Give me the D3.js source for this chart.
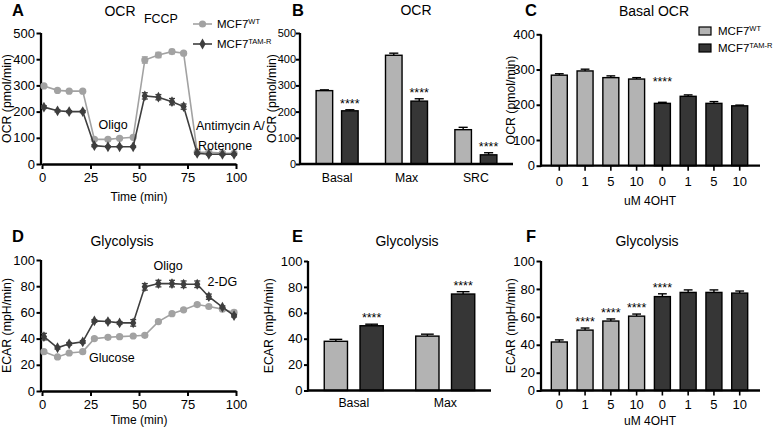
<!DOCTYPE html>
<html><head><meta charset="utf-8">
<script src="https://cdn.jsdelivr.net/npm/d3@7"></script>
<style>
body{margin:0;background:#fff}
svg{display:block;font-family:"Liberation Sans",Arial,sans-serif}
</style></head><body>
<svg id="c" width="777" height="428"></svg>
<script>
// ---------- DATA ----------
const times = [1, 8, 14, 21, 27, 34, 40, 47, 53, 60, 67, 73, 80, 86, 93, 99];
const ocrWT = [298, 281, 278, 278, 94, 94, 98, 102, 397, 416, 429, 423, 45, 45, 42, 41];
const ocrWTErr = [5, 4, 4, 4, 4, 4, 4, 4, 12, 10, 8, 6, 4, 4, 4, 4];
const ocrTAM = [217, 203, 200, 200, 70, 66, 66, 66, 260, 255, 238, 219, 41, 37, 37, 37];
const ocrTAMErr = [5, 4, 4, 4, 4, 3, 3, 3, 12, 10, 12, 10, 4, 3, 3, 3];

const ecarWT = [30, 26, 29, 30, 40, 41, 41.5, 42, 42.5, 53, 59, 62, 66, 64.5, 62.5, 60];
const ecarWTErr = [1, 1, 1, 1, 1, 1, 1, 1, 1, 1, 1, 1, 1, 1, 1, 1.5];
const ecarTAM = [41.5, 33, 36, 37.5, 53.5, 53, 52, 52, 79.5, 82, 82, 81.5, 81.5, 72, 64, 57.5];
const ecarTAMErr = [2.5, 1, 1, 1, 1, 1, 1, 2.5, 2.5, 2.5, 2.5, 2.5, 2.5, 2, 1, 1];

const series = ["WT", "TAM"];
const ocrCats = ["Basal", "Max", "SRC"];
const ocrCatWT = [280, 415, 131];
const ocrCatWTErr = [3, 8, 9];
const ocrCatTAM = [203, 240, 35];
const ocrCatTAMErr = [4, 9, 8];

const doses = ["0", "1", "5", "10"];
const basalWT = [284, 296, 277, 273];
const basalWTErr = [4, 5, 5, 4];
const basalTAM = [204, 224, 204, 197];
const basalTAMErr = [3, 4, 5, 2];

const ecarCats = ["Basal", "Max"];
const ecarCatWT = [38, 42];
const ecarCatWTErr = [1.5, 1.5];
const ecarCatTAM = [50, 74.5];
const ecarCatTAMErr = [1.2, 1.8];

const glycWT = [42, 50.5, 57, 60.5];
const glycWTErr = [1.5, 1.5, 1.5, 1.5];
const glycTAM = [74.5, 77.5, 77.5, 77];
const glycTAMErr = [2, 1.8, 1.8, 1.5];

const ocrTicks = [0, 100, 200, 300, 400, 500];
const basalTicks = [0, 100, 200, 300, 400];
const ecarTicks = [0, 20, 40, 60, 80, 100];
const timeTicks = [0, 25, 50, 75, 100];

// ---------- STYLE ----------
const FONT = '"Liberation Sans", Arial, sans-serif';
const cWTline = "#a2a2a2", cTAMline = "#3e3e3e";
const cWTbar = "#b3b3b3", cTAMbar = "#363636";

const svg = d3.select("#c");

function styleAxis(g, fs) {
  g.attr("font-family", FONT).attr("font-size", fs || 13);
  g.select(".domain").attr("stroke", "#000").attr("stroke-width", 2.3);
  g.selectAll(".tick line").attr("stroke", "#000").attr("stroke-width", 2);
  g.selectAll(".tick text").attr("fill", "#000");
}
function text(x, y, s, opt) {
  opt = opt || {};
  const t = svg.append("text").attr("x", x).attr("y", y)
    .attr("font-family", FONT).attr("font-size", opt.size || 13)
    .attr("text-anchor", opt.anchor || "middle").attr("fill", "#000").text(s);
  if (opt.bold) t.attr("font-weight", "bold");
  return t;
}
function ylabel(x, yc, s) {
  svg.append("text").attr("transform", `translate(${x},${yc}) rotate(-90)`)
    .attr("font-family", FONT).attr("font-size", 12.3).attr("text-anchor", "middle")
    .attr("fill", "#000").text(s);
}
function stars(x, y) {
  svg.append("text").attr("x", x).attr("y", y).attr("font-family", FONT)
    .attr("font-size", 12.5).attr("text-anchor", "middle").attr("fill", "#000").text("****");
}

// ---------- PANEL LETTERS & TITLES ----------
[["A", 12, 16], ["B", 292, 16], ["C", 525, 16], ["D", 12, 242], ["E", 292, 242], ["F", 526, 242]]
  .forEach(d => text(d[1], d[2], d[0], { anchor: "start", size: 16.5, bold: true }));
text(120, 16, "OCR", { size: 14 });
text(416, 15, "OCR", { size: 14 });
text(654, 16, "Basal OCR", { size: 14 });
text(122, 246, "Glycolysis", { size: 14 });
text(407, 246, "Glycolysis", { size: 14 });
text(647, 246, "Glycolysis", { size: 14 });

// ---------- LINE PANELS (A, D) ----------
function linePanel(cfg) {
  const x = d3.scaleLinear().domain([0, 100]).range(cfg.xr);
  const y = d3.scaleLinear().domain(cfg.ydom).range(cfg.yr);
  const gx = svg.append("g").attr("transform", `translate(0,${cfg.yr[0]})`)
    .call(d3.axisBottom(x).tickValues(timeTicks).tickSize(5).tickPadding(4).tickSizeOuter(0));
  styleAxis(gx);
  const gy = svg.append("g").attr("transform", `translate(${cfg.xr[0] - 1},0)`)
    .call(d3.axisLeft(y).tickValues(cfg.yticks).tickSize(4.5).tickPadding(1.5).tickSizeOuter(0));
  styleAxis(gy);
  gy.select(".domain").attr("d", `M0,${cfg.yr[0] + 1}V${cfg.yr[1]}`);
  const sets = [
    { v: cfg.wt, e: cfg.wtErr, c: cWTline, sym: "circle" },
    { v: cfg.tam, e: cfg.tamErr, c: cTAMline, sym: "diamond" }
  ];
  sets.forEach(s => {
    const pts = times.map((t, i) => ({ t, v: s.v[i], e: s.e[i] }));
    svg.append("path").datum(pts).attr("fill", "none").attr("stroke", s.c).attr("stroke-width", 1.6)
      .attr("d", d3.line().x(d => x(d.t)).y(d => y(d.v)));
    const eb = svg.append("g").attr("stroke", s.c).attr("stroke-width", 1.3);
    pts.forEach(d => {
      const x0 = x(d.t), y1 = y(d.v + d.e), y2 = y(d.v - d.e);
      eb.append("line").attr("x1", x0).attr("x2", x0).attr("y1", y1).attr("y2", y2);
      eb.append("line").attr("x1", x0 - 3).attr("x2", x0 + 3).attr("y1", y1).attr("y2", y1);
      eb.append("line").attr("x1", x0 - 3).attr("x2", x0 + 3).attr("y1", y2).attr("y2", y2);
    });
    const mk = svg.append("g");
    pts.forEach(d => {
      if (s.sym === "circle") mk.append("circle").attr("cx", x(d.t)).attr("cy", y(d.v)).attr("r", 3.6).attr("fill", s.c);
      else mk.append("path").attr("d", d3.symbol(d3.symbolDiamond, 34)()).attr("transform", `translate(${x(d.t)},${y(d.v)})`).attr("fill", s.c);
    });
  });
  text((cfg.xr[0] + cfg.xr[1]) / 2, cfg.xlabY, "Time (min)", { size: 12 });
  ylabel(cfg.ylabX, (cfg.yr[0] + cfg.yr[1]) / 2, cfg.ylab);
  return { x, y };
}

const A = linePanel({ xr: [42, 236], yr: [164, 33], ydom: [0, 500], yticks: ocrTicks,
  wt: ocrWT, wtErr: ocrWTErr, tam: ocrTAM, tamErr: ocrTAMErr, xlabY: 201, ylabX: 11, ylab: "OCR (pmol/min)" });
text(A.x(36.6), A.y(134), "Oligo", { size: 12.5 });
text(A.x(61.3), A.y(540), "FCCP", { size: 12.5 });
text(A.x(79.4), A.y(130), "Antimycin A/", { size: 12.5, anchor: "start" });
text(A.x(80.4), A.y(52), "Rotenone", { size: 12.5, anchor: "start" });

// Legend A
[[24, cWTline, "circle", "WT"], [44, cTAMline, "diamond", "TAM-R"]].forEach(l => {
  const yy = l[0];
  svg.append("line").attr("x1", 193).attr("x2", 212).attr("y1", yy).attr("y2", yy).attr("stroke", l[1]).attr("stroke-width", 1.6);
  if (l[2] === "circle") svg.append("circle").attr("cx", 202.5).attr("cy", yy).attr("r", 3.6).attr("fill", l[1]);
  else svg.append("path").attr("d", d3.symbol(d3.symbolDiamond, 34)()).attr("transform", `translate(202.5,${yy})`).attr("fill", l[1]);
  const t = text(217, yy + 4, "MCF7", { size: 11.5, anchor: "start" });
  t.append("tspan").attr("dy", -4).attr("font-size", 7.5).text(l[3]);
});

const D = linePanel({ xr: [42, 236], yr: [391, 260], ydom: [0, 100], yticks: ecarTicks,
  wt: ecarWT, wtErr: ecarWTErr, tam: ecarTAM, tamErr: ecarTAMErr, xlabY: 424, ylabX: 11, ylab: "ECAR (mpH/min)" });
text(D.x(65), D.y(92.5), "Oligo", { size: 12.5 });
text(D.x(93), D.y(80), "2-DG", { size: 12.5 });
text(D.x(36), D.y(22), "Glucose", { size: 12.5 });

// ---------- GROUPED BAR PANELS (B, E) ----------
function errBar(x, y0, y1, w) {
  const g = svg.append("g").attr("stroke", "#000").attr("stroke-width", 1.4);
  g.append("line").attr("x1", x).attr("x2", x).attr("y1", y0).attr("y2", y1);
  g.append("line").attr("x1", x - w / 2).attr("x2", x + w / 2).attr("y1", y1).attr("y2", y1);
}
function groupPanel(cfg) {
  const x0 = d3.scaleBand().domain(cfg.cats).range(cfg.xr).paddingInner(0).paddingOuter(cfg.po);
  const x1 = d3.scaleBand().domain(series).range([-cfg.half, cfg.half]).paddingInner(0.35);
  const y = d3.scaleLinear().domain(cfg.ydom).range(cfg.yr);
  const rows = [];
  cfg.cats.forEach((c, i) => {
    rows.push({ c, s: "WT", v: cfg.wt[i], e: cfg.wtErr[i] });
    rows.push({ c, s: "TAM", v: cfg.tam[i], e: cfg.tamErr[i] });
  });
  rows.forEach(r => {
    const bx = x0(r.c) + x0.bandwidth() / 2 + x1(r.s);
    const cx = bx + x1.bandwidth() / 2;
    errBar(cx, y(r.v), y(r.v + r.e), x1.bandwidth() * 0.55);
    svg.append("rect").attr("x", bx).attr("y", y(r.v)).attr("width", x1.bandwidth())
      .attr("height", y(0) - y(r.v)).attr("fill", r.s === "WT" ? cWTbar : cTAMbar)
      .attr("stroke", "#000").attr("stroke-width", 1.4);
    if (r.s === "TAM") stars(cx, y(r.v + r.e) - 2);
  });
  const gx = svg.append("g").attr("transform", `translate(0,${cfg.yr[0]})`)
    .call(d3.axisBottom(x0).tickSize(0).tickPadding(cfg.tp).tickSizeOuter(0));
  styleAxis(gx, 12.3);
  gx.select(".domain").attr("d", `M${cfg.xr[0]},0H${cfg.xr[1]}`);
  const gy = svg.append("g").attr("transform", `translate(${cfg.xr[0]},0)`)
    .call(d3.axisLeft(y).tickValues(cfg.yticks).tickSize(4).tickPadding(cfg.ypad).tickSizeOuter(0));
  styleAxis(gy, cfg.yfs);
  gy.select(".domain").attr("d", `M0,${cfg.yr[0] + 1}V${cfg.yr[1]}`);
  ylabel(cfg.ylabX, (cfg.yr[0] + cfg.yr[1]) / 2, cfg.ylab);
}
groupPanel({ cats: ocrCats, xr: [300, 513], po: 0.035, half: 21, ydom: [0, 500], yr: [164, 33], yticks: ocrTicks,
  wt: ocrCatWT, wtErr: ocrCatWTErr, tam: ocrCatTAM, tamErr: ocrCatTAMErr, tp: 9, ylabX: 276, ylab: "OCR (pmol/min)",
  yfs: 11, ypad: 0 });
groupPanel({ cats: ecarCats, xr: [308, 491], po: 0, half: 29.5, ydom: [0, 100], yr: [390.5, 261], yticks: ecarTicks,
  wt: ecarCatWT, wtErr: ecarCatWTErr, tam: ecarCatTAM, tamErr: ecarCatTAMErr, tp: 8, ylabX: 273, ylab: "ECAR (mpH/min)",
  yfs: 13, ypad: 1.5 });

// ---------- DOSE BAR PANELS (C, F) ----------
function dosePanel(cfg) {
  const keys = [];
  series.forEach(s => doses.forEach(d => keys.push(s + "|" + d)));
  const x = d3.scaleBand().domain(keys).range([541, 758]).paddingInner(0.38).paddingOuter(0.4);
  const y = d3.scaleLinear().domain(cfg.ydom).range(cfg.yr);
  const rows = [];
  series.forEach(s => doses.forEach((d, i) => {
    rows.push({ k: s + "|" + d, s, v: s === "WT" ? cfg.wt[i] : cfg.tam[i], e: s === "WT" ? cfg.wtErr[i] : cfg.tamErr[i], star: cfg.sig.includes(s + "|" + d) });
  }));
  rows.forEach(r => {
    const cx = x(r.k) + x.bandwidth() / 2;
    errBar(cx, y(r.v), y(r.v + r.e), x.bandwidth() * 0.55);
    svg.append("rect").attr("x", x(r.k)).attr("y", y(r.v)).attr("width", x.bandwidth())
      .attr("height", y(0) - y(r.v)).attr("fill", r.s === "WT" ? cWTbar : cTAMbar)
      .attr("stroke", "#000").attr("stroke-width", 1.4);
    if (r.star) stars(cx, y(r.v + r.e) - cfg.starGap);
  });
  const gx = svg.append("g").attr("transform", `translate(0,${cfg.yr[0]})`)
    .call(d3.axisBottom(x).tickSize(5).tickPadding(cfg.tp).tickSizeOuter(0).tickFormat(k => k.split("|")[1]));
  styleAxis(gx, 13);
  gx.selectAll(".tick line").attr("stroke-width", 1.6);
  gx.select(".domain").attr("d", `M541,0H760`);
  const gy = svg.append("g").attr("transform", `translate(541,0)`)
    .call(d3.axisLeft(y).tickValues(cfg.yticks).tickSize(4.5).tickPadding(1.5).tickSizeOuter(0));
  styleAxis(gy);
  gy.select(".domain").attr("d", `M0,${cfg.yr[0] + 1}V${cfg.yr[cfg.yr.length - 1]}`);
  text(650, cfg.xlabY, "uM 4OHT", { size: 12 });
  ylabel(515, (cfg.yr[0] + cfg.yr[cfg.yr.length - 1]) / 2, cfg.ylab);
}
dosePanel({ ydom: [0, 100, 400], yr: [165.7, 140, 34.3], yticks: basalTicks, wt: basalWT, wtErr: basalWTErr,
  tam: basalTAM, tamErr: basalTAMErr, sig: ["TAM|0"], starGap: 16, tp: 6, xlabY: 205, ylab: "OCR (pmol/min)" });
dosePanel({ ydom: [0, 20, 100], yr: [390.5, 372.7, 261], yticks: ecarTicks, wt: glycWT, wtErr: glycWTErr,
  tam: glycTAM, tamErr: glycTAMErr, sig: ["WT|1", "WT|5", "WT|10", "TAM|0"], starGap: 2, tp: 4, xlabY: 425, ylab: "ECAR (mpH/min)" });

// Legend C
[[31, cWTbar, "WT"], [48, cTAMbar, "TAM-R"]].forEach(l => {
  svg.append("rect").attr("x", 699).attr("y", l[0] - 4).attr("width", 12).attr("height", 8)
    .attr("fill", l[1]).attr("stroke", "#000").attr("stroke-width", 1.2);
  const t = text(718, l[0] + 4, "MCF7", { size: 11.5, anchor: "start" });
  t.append("tspan").attr("dy", -4).attr("font-size", 7.5).text(l[2]);
});
</script>
</body></html>
